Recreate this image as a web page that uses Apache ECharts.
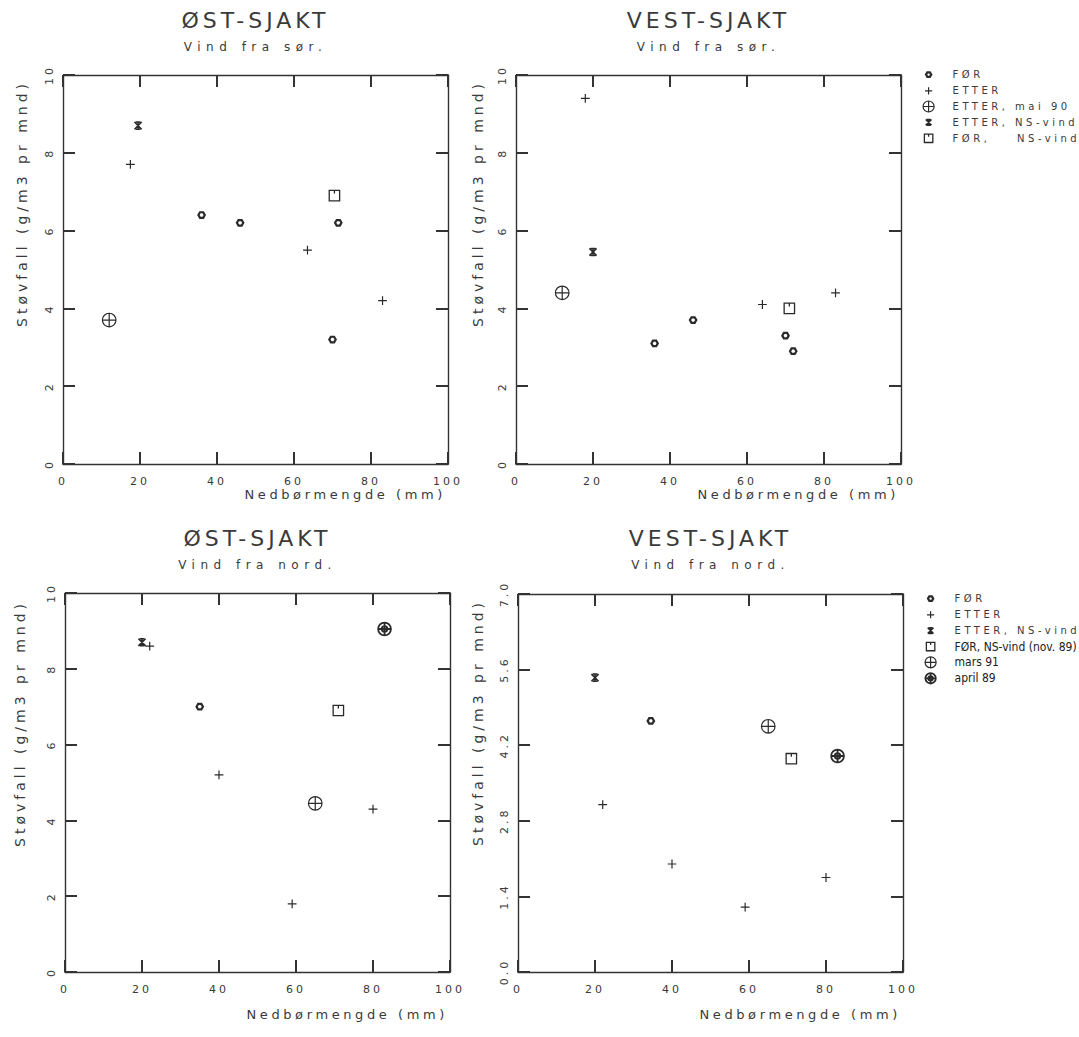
<!DOCTYPE html>
<html><head><meta charset="utf-8">
<script src="https://cdn.jsdelivr.net/npm/echarts@6/dist/echarts.min.js"></script>
<style>
html,body{margin:0;padding:0;background:#fff;}
#chart{width:1079px;height:1037px;}
#chart text{letter-spacing:3.5px;white-space:pre;}
#chart text[style*="22px"]{letter-spacing:4px;}
#chart text[style*="12px"]{letter-spacing:5.5px;}
#chart text[style*="14px"]{letter-spacing:4px;}
#chart text[style*="13px"]{letter-spacing:3.6px;}
#chart text[style*="11px"]{letter-spacing:3px;}
#chart text[style*="Narrow"]{letter-spacing:0;}
</style></head><body><div id="chart"></div>
<script>
// ---- texts ----
const panelTitles = ['ØST-SJAKT', 'VEST-SJAKT', 'ØST-SJAKT', 'VEST-SJAKT'];
const panelSubtitles = ['Vind fra sør.', 'Vind fra sør.', 'Vind fra nord.', 'Vind fra nord.'];
const xAxisTitle = 'Nedbørmengde (mm)';
const yAxisTitle = 'Støvfall (g/m3 pr mnd)';
// ---- axis scales [min, max, interval] ----
const xScale = [0, 100, 20];
const yScales = [[0, 10, 2], [0, 10, 2], [0, 10, 2], [0, 7, 1.4]];
// ---- legend entries ----
const legendSor = ['FØR', 'ETTER', 'ETTER, mai 90', 'ETTER, NS-vind', 'FØR,    NS-vind'];
const legendNord = ['FØR', 'ETTER', 'ETTER, NS-vind', 'FØR, NS-vind (nov. 89)', 'mars 91', 'april 89'];

// ---- data: [Nedbørmengde, Støvfall] ----
// ØST-SJAKT, vind fra sør
const ostSorFor = [[36, 6.4], [46, 6.2], [71.5, 6.2], [70, 3.2]];
const ostSorEtter = [[17.5, 7.7], [63.5, 5.5], [83, 4.2]];
const ostSorEtterMai90 = [[12, 3.7]];
const ostSorEtterNS = [[19.5, 8.7]];
const ostSorForNS = [[70.5, 6.9]];
// VEST-SJAKT, vind fra sør
const vestSorFor = [[36, 3.1], [46, 3.7], [70, 3.3], [72, 2.9]];
const vestSorEtter = [[18, 9.4], [64, 4.1], [83, 4.4]];
const vestSorEtterMai90 = [[12, 4.4]];
const vestSorEtterNS = [[20, 5.45]];
const vestSorForNS = [[71, 4.0]];
// ØST-SJAKT, vind fra nord
const ostNordFor = [[35, 7.0]];
const ostNordEtter = [[22, 8.6], [40, 5.2], [80, 4.3], [59, 1.8]];
const ostNordEtterNS = [[20, 8.7]];
const ostNordForNS = [[71, 6.9]];
const ostNordMars91 = [[65, 4.45]];
const ostNordApril89 = [[83, 9.05]];
// VEST-SJAKT, vind fra nord
const vestNordFor = [[34.5, 4.65]];
const vestNordEtter = [[22, 3.1], [40, 2.0], [80, 1.75], [59, 1.2]];
const vestNordEtterNS = [[20, 5.45]];
const vestNordForNS = [[71, 3.95]];
const vestNordMars91 = [[65, 4.55]];
const vestNordApril89 = [[83, 4.0]];

// ---- marker styles ----
const B = 'M-10 -10M10 10';
const SYM = {
  hex: { path: 'path://' + B + 'M4 0L2 3.46L-2 3.46L-4 0L-2 -3.46L2 -3.46Z', w: 2.2 },
  plus: { path: 'path://' + B + 'M-5.5 0L5.5 0M0 -5.5L0 5.5', w: 1.2 },
  cplus: { path: 'path://' + B + 'M-8.5 0A8.5 8.5 0 1 0 8.5 0A8.5 8.5 0 1 0 -8.5 0ZM-8.5 0L8.5 0M0 -8.5L0 8.5', w: 1.2 },
  star: { path: 'path://' + B + 'M-4.5 -4.5L4.5 4.5M4.5 -4.5L-4.5 4.5M-3 -4.5L3 -4.5M-3 4.5L3 4.5M0 -4.5L0 4.5', w: 1.5 },
  square: { path: 'path://' + B + 'M-6.5 -6.5L6.5 -6.5L6.5 6.5L-6.5 6.5ZM0 -6.5L0 -2.5', w: 1.3 },
  april: { path: 'path://' + B + 'M-8 0A8 8 0 1 0 8 0A8 8 0 1 0 -8 0ZM-3.5 0A3.5 3.5 0 1 0 3.5 0A3.5 3.5 0 1 0 -3.5 0ZM-8 0L8 0M0 -8L0 8', w: 1.8 }
};

const panels = [
  [['FØR', ostSorFor, 'hex'], ['ETTER', ostSorEtter, 'plus'], ['ETTER, mai 90', ostSorEtterMai90, 'cplus'], ['ETTER, NS-vind', ostSorEtterNS, 'star'], [legendSor[4], ostSorForNS, 'square']],
  [['FØR', vestSorFor, 'hex'], ['ETTER', vestSorEtter, 'plus'], ['ETTER, mai 90', vestSorEtterMai90, 'cplus'], ['ETTER, NS-vind', vestSorEtterNS, 'star'], [legendSor[4], vestSorForNS, 'square']],
  [['FØR', ostNordFor, 'hex'], ['ETTER', ostNordEtter, 'plus'], ['ETTER, NS-vind', ostNordEtterNS, 'star'], [legendNord[3], ostNordForNS, 'square'], ['mars 91', ostNordMars91, 'cplus'], ['april 89', ostNordApril89, 'april']],
  [['FØR', vestNordFor, 'hex'], ['ETTER', vestNordEtter, 'plus'], ['ETTER, NS-vind', vestNordEtterNS, 'star'], [legendNord[3], vestNordForNS, 'square'], ['mars 91', vestNordMars91, 'cplus'], ['april 89', vestNordApril89, 'april']]
];

const INK = '#333';
const TXT = '#3a3a3a';
const FONT = "'DejaVu Sans', sans-serif";
const NARROW = "'Liberation Sans Narrow', 'DejaVu Sans Condensed', 'Roboto Condensed', sans-serif";

const grids = [
  { left: 63, top: 75, width: 385, height: 389 },
  { left: 516, top: 75, width: 385, height: 389 },
  { left: 65, top: 593, width: 385, height: 379 },
  { left: 518, top: 594, width: 385, height: 378 }
];
const yNameGap = [-5, -5, -7, -5];
const yNamePad = [34, 31, 38, 33];
const xNamePad = [24, 24, 36, 36];
const titleTops = [9, 9, 527, 527];

function lineStyle() { return { color: INK, width: 1.4 }; }
function ticks() { return { show: true, inside: true, length: 12, lineStyle: { color: '#333', width: 2 } }; }

const xAxes = [], yAxes = [], series = [], titles = [];
grids.forEach((g, p) => {
  const cx = g.left + g.width / 2;
  const ys = yScales[p];
  titles.push({
    text: panelTitles[p], subtext: panelSubtitles[p],
    left: cx, top: titleTops[p], textAlign: 'center', padding: 0, itemGap: 10,
    textStyle: { fontSize: 22, fontWeight: 'normal', color: TXT, fontFamily: FONT },
    subtextStyle: { fontSize: 12, color: TXT, fontFamily: FONT }
  });
  xAxes.push({
    type: 'value', gridIndex: p, position: 'bottom', min: xScale[0], max: xScale[1], interval: xScale[2],
    axisLine: { show: true, onZero: false, lineStyle: lineStyle() }, axisTick: ticks(), splitLine: { show: false },
    axisLabel: { fontSize: 11, color: TXT, fontFamily: FONT, margin: 12 },
    name: xAxisTitle, nameLocation: 'end', nameGap: -2, nameMoveOverlap: false,
    nameTextStyle: { fontSize: 13, color: TXT, fontFamily: FONT, align: 'right', verticalAlign: 'top', padding: [xNamePad[p], 0, 0, 0] }
  });
  yAxes.push({
    type: 'value', gridIndex: p, position: 'left', min: ys[0], max: ys[1], interval: ys[2],
    axisLine: { show: true, onZero: false, lineStyle: lineStyle() }, axisTick: ticks(), splitLine: { show: false },
    axisLabel: { fontSize: 11, color: TXT, fontFamily: FONT, margin: 8, rotate: 90,
      formatter: v => (p === 3 ? v.toFixed(1) : String(v)) },
    name: yAxisTitle, nameLocation: 'end', nameGap: yNameGap[p], nameRotate: 90, nameMoveOverlap: false,
    nameTextStyle: { fontSize: 14, color: TXT, fontFamily: FONT, align: 'right', verticalAlign: 'bottom', padding: [0, 0, yNamePad[p], 0] }
  });
  panels[p].forEach(([name, data, sym]) => {
    series.push({
      type: 'scatter', name, data, xAxisIndex: p, yAxisIndex: p,
      symbol: SYM[sym].path, symbolSize: 16, silent: true,
      itemStyle: { color: 'transparent', borderColor: '#2a2a2a', borderWidth: SYM[sym].w, opacity: 1 }
    });
  });
});
grids.forEach((g, p) => {
  const ys = yScales[p];
  xAxes.push({
    type: 'value', gridIndex: p, position: 'top', min: xScale[0], max: xScale[1], interval: xScale[2],
    axisLine: { show: true, onZero: false, lineStyle: lineStyle() }, axisTick: ticks(), splitLine: { show: false }, axisLabel: { show: false }
  });
  yAxes.push({
    type: 'value', gridIndex: p, position: 'right', min: ys[0], max: ys[1], interval: ys[2],
    axisLine: { show: true, onZero: false, lineStyle: lineStyle() }, axisTick: ticks(), splitLine: { show: false }, axisLabel: { show: false }
  });
});

const legendBase = {
  orient: 'vertical', itemWidth: 38, itemHeight: 13, itemGap: 1.5, padding: 0, selectedMode: false,
  itemStyle: { borderWidth: 'inherit' },
  textStyle: { fontSize: 10, color: TXT, fontFamily: FONT }
};
const legends = [
  Object.assign({}, legendBase, { left: 921, top: 67, data: legendSor }),
  Object.assign({}, legendBase, {
    left: 923, top: 591,
    data: legendNord.map((n, i) => i >= 3 ? { name: n, textStyle: { fontFamily: NARROW, fontSize: 12, color: '#222' } } : n)
  })
];

const chart = echarts.init(document.getElementById('chart'), null, { renderer: 'svg' });
chart.setOption({
  animation: false,
  backgroundColor: '#fff',
  title: titles,
  legend: legends,
  grid: grids,
  xAxis: xAxes,
  yAxis: yAxes,
  series
});
</script></body></html>
